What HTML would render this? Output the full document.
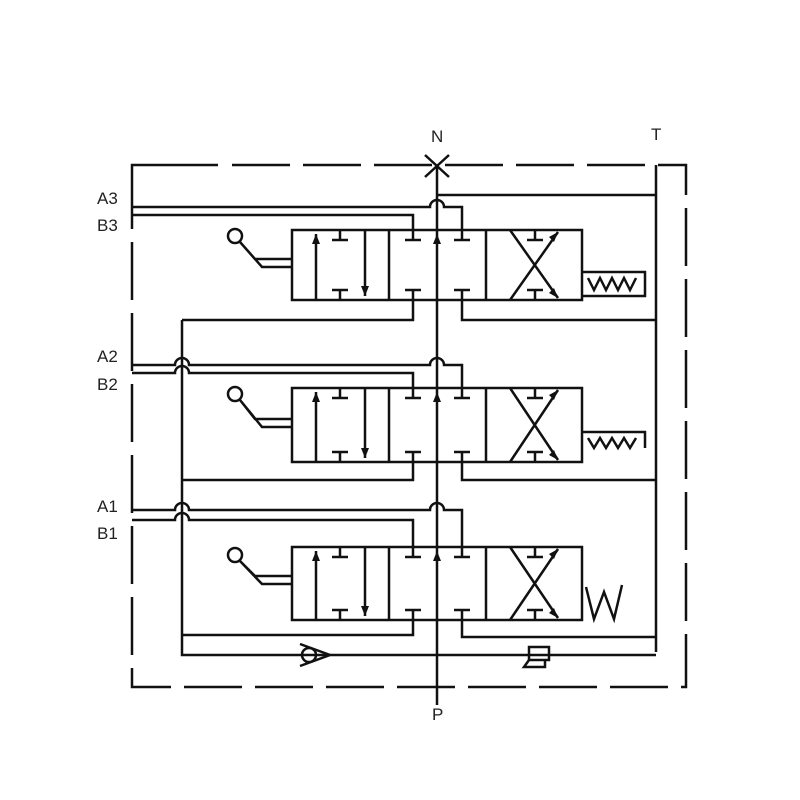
<!DOCTYPE html>
<html><head><style>body{margin:0;background:#fff}svg{display:block}</style></head><body>
<svg width="800" height="800" viewBox="0 0 800 800" xmlns="http://www.w3.org/2000/svg" font-family="Liberation Sans, sans-serif">
<g fill="none" stroke="#111" stroke-width="2.5">
<!-- frame -->
<path d="M218 165H132V215" />
<path d="M232 165H686V687H132V215" stroke-dasharray="58 13"/>
<!-- N cross -->
<path d="M425 155L449 177M449 155L425 177"/>
<!-- P line -->
<path d="M437 166V705"/>
<!-- T line -->
<path d="M656 165V652"/>
<path d="M437 195H656"/>
<!-- left return vertical -->
<path d="M182 320V655H656"/>

<!-- Section 3 -->
<path d="M132 207H430a7 7 0 0 1 14 0H462V230"/>
<path d="M132 215H413V230"/>
<path d="M413 300V320H182"/>
<path d="M462 300V320H656"/>
<!-- Section 2 -->
<path d="M132 365H175a7 7 0 0 1 14 0H430a7 7 0 0 1 14 0H462V388"/>
<path d="M132 373H175a7 7 0 0 1 14 0H413V388"/>
<path d="M413 462V480H182"/>
<path d="M462 462V480H656"/>
<!-- Section 1 -->
<path d="M132 510H175a7 7 0 0 1 14 0H430a7 7 0 0 1 14 0H462V547"/>
<path d="M132 520H175a7 7 0 0 1 14 0H413V547"/>
<path d="M413 620V635H182"/>
<path d="M462 620V637H656"/>

<!-- check valve -->
<circle cx="309" cy="655" r="7"/>
<path d="M300 644L330 655L300 666"/>
<!-- other element -->
<rect x="529" y="647" width="20" height="13"/>
<path d="M529 660L524 667H545V660"/>
</g>

<g id="valve" fill="none" stroke="#111" stroke-width="2.5">
</g>

<!-- valves drawn via repeated groups -->
<g fill="none" stroke="#111" stroke-width="2.5">
<g transform="translate(0,230)">
<rect x="292" y="0" width="290" height="70"/>
<path d="M389 0V70M486 0V70"/>
<path d="M316 70V4M365 0V66"/>
<path d="M340 0V10M332 10H348M340 70V60M332 60H348"/>
<path d="M413 0V10M405 10H421M413 70V60M405 60H421"/>
<path d="M462 0V10M454 10H470M462 70V60M454 60H470"/>
<path d="M535 0V10M527 10H543M535 70V60M527 60H543"/>
<path d="M510 0L558 68M510 70L558 2"/>
<circle cx="235" cy="6" r="7"/>
<path d="M240 12L262 37H292M240 12L255 29H292"/>
<path d="M582 42H645V66H582M588 48L594 60L600 48L606 60L612 48L618 60L624 48L630 60L636 48"/>
</g>
<g transform="translate(0,388)">
<rect x="292" y="0" width="290" height="74"/>
<path d="M389 0V74M486 0V74"/>
<path d="M316 74V4M365 0V70"/>
<path d="M340 0V10M332 10H348M340 74V64M332 64H348"/>
<path d="M413 0V10M405 10H421M413 74V64M405 64H421"/>
<path d="M462 0V10M454 10H470M462 74V64M454 64H470"/>
<path d="M535 0V10M527 10H543M535 74V64M527 64H543"/>
<path d="M510 0L558 72M510 74L558 2"/>
<circle cx="235" cy="6" r="7"/>
<path d="M240 12L262 39H292M240 12L255 31H292"/>
<path d="M582 44H645V60M588 50L594 60L600 50L606 60L612 50L618 60L624 50L630 60L636 50"/>
</g>
<g transform="translate(0,547)">
<rect x="292" y="0" width="290" height="73"/>
<path d="M389 0V73M486 0V73"/>
<path d="M316 73V4M365 0V69"/>
<path d="M340 0V10M332 10H348M340 73V63M332 63H348"/>
<path d="M413 0V10M405 10H421M413 73V63M405 63H421"/>
<path d="M462 0V10M454 10H470M462 73V63M454 63H470"/>
<path d="M535 0V10M527 10H543M535 73V63M527 63H543"/>
<path d="M510 0L558 71M510 73L558 2"/>
<circle cx="235" cy="8" r="7"/>
<path d="M240 14L262 37H292M240 14L255 29H292"/>
<path d="M586 40L594 72L604 45L614 72L622 38"/>
</g>
</g>
<g fill="#111">
<path d="M316 234l-4 10h8z M365 296l-4-10h8z M437 234l-4 10h8z M558 232l-9 5 5 5z M558 298l-9-5 5-5z"/>
<path d="M316 392l-4 10h8z M365 458l-4-10h8z M437 392l-4 10h8z M558 390l-9 5 5 5z M558 460l-9-5 5-5z"/>
<path d="M316 551l-4 10h8z M365 616l-4-10h8z M437 551l-4 10h8z M558 549l-9 5 5 5z M558 618l-9-5 5-5z"/>
</g>
<g fill="#222" font-size="17">
<text x="431" y="142">N</text>
<text x="651" y="140">T</text>
<text x="432" y="720">P</text>
<text x="97" y="204">A3</text>
<text x="97" y="231">B3</text>
<text x="97" y="362">A2</text>
<text x="97" y="390">B2</text>
<text x="97" y="512">A1</text>
<text x="97" y="539">B1</text>
</g>
</svg>
</body></html>
